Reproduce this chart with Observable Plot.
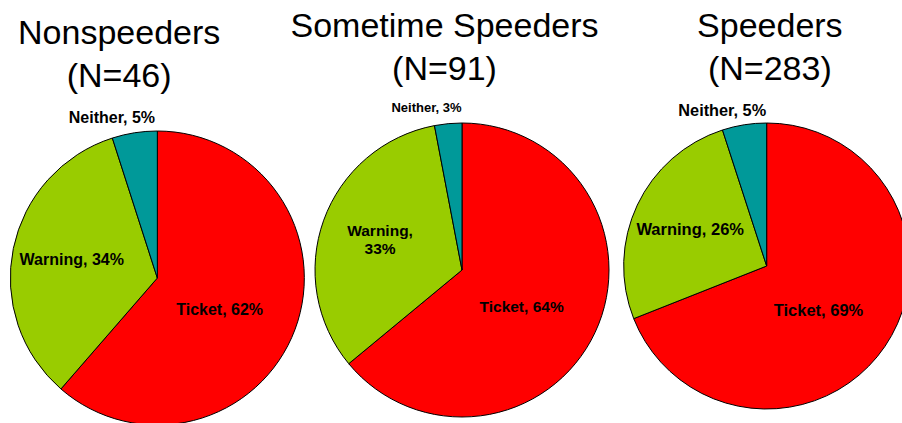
<!DOCTYPE html>
<html><head><meta charset="utf-8">
<script src="https://cdn.jsdelivr.net/npm/d3@7"></script>
<script src="https://cdn.jsdelivr.net/npm/@observablehq/plot@0.6"></script>
<style>body{margin:0;background:#fff} svg{display:block}</style>
</head><body><div id="chart"></div>
<script>
// ---- data ----
const groups = ["Nonspeeders", "Sometime Speeders", "Speeders"];
const counts = [46, 91, 283];
const categories = ["Ticket", "Warning", "Neither"];
const ticketPct = [62, 64, 69];
const warningPct = [34, 33, 26];
const neitherPct = [5, 3, 5];
const colors = ["#FF0000", "#99CC00", "#009999"];

// ---- layout (not data) ----
const W = 902, H = 423;
const FONT = "'Liberation Sans', Arial, Helvetica, sans-serif";
const pieRange = [5, 919];
const titleRange = [-44, 932];
const pieCy = [278, 270, 266];
const pieR = [147, 147, 143];
const titleTop = [14, 7, 7];
const labelSizes = [[16, 16, 16], [15.5, 15.5, 13], [16.5, 16.5, 16.3]];
const wrapLabel = [[false, false, false], [false, true, false], [false, false, false]];
const labelRadius = {Ticket: 0.47, Warning: 0.6, Neither: 1.14};
const labelShift = {Ticket: 6, Warning: 1, Neither: -7}; // degrees

const pieX = Plot.scale({x: {type: "band", domain: groups, range: pieRange, padding: 0}});
const titleX = Plot.scale({x: {type: "band", domain: groups, range: titleRange, padding: 0}});
const color = Plot.scale({color: {type: "ordinal", domain: categories, range: colors}});
const series = [ticketPct, warningPct, neitherPct];

const slices = [];
const labels = [];
groups.forEach((g, i) => {
  const rows = categories.map((c, j) => ({group: g, category: c, value: series[j][i]}));
  const arcs = d3.pie().sort(null).value(d => d.value)(rows);
  const cx = pieX.apply(g) + pieX.bandwidth / 2;
  const cy = pieCy[i], r = pieR[i];
  arcs.forEach((a, j) => {
    const c = a.data.category;
    slices.push({cx, cy, r, arc: a, category: c});
    const mid = (a.startAngle + a.endAngle) / 2 + labelShift[c] * Math.PI / 180;
    const rr = labelRadius[c] * r;
    labels.push({
      x: cx + rr * Math.sin(mid),
      y: cy - rr * Math.cos(mid),
      text: `${c},${wrapLabel[i][j] ? "\n" : " "}${a.data.value}%`,
      size: labelSizes[i][j]
    });
  });
});

const titles = groups.map((g, i) => ({
  x: titleX.apply(g) + titleX.bandwidth / 2,
  y: titleTop[i],
  text: `${g}\n(N=${counts[i]})`
}));

function pieMark() {
  const g = d3.create("svg:g");
  for (const s of slices) {
    g.append("path")
      .attr("transform", `translate(${s.cx},${s.cy})`)
      .attr("d", d3.arc().innerRadius(0).outerRadius(s.r)(s.arc))
      .attr("fill", color.apply(s.category))
      .attr("stroke", "#000")
      .attr("stroke-width", 1)
      .attr("stroke-linejoin", "round");
  }
  return g.node();
}

const chart = Plot.plot({
  width: W,
  height: H,
  margin: 0,
  style: {background: "#fff", fontFamily: FONT, overflow: "hidden"},
  x: {type: "identity", axis: null},
  y: {type: "identity", axis: null},
  marks: [
    pieMark,
    Plot.text(labels, {
      x: "x", y: "y", text: "text", fontSize: "size",
      fontWeight: "bold", fill: "#000", textAnchor: "middle",
      lineHeight: 1.2, fontFamily: FONT
    }),
    Plot.text(titles, {
      x: "x", y: "y", text: "text", fontSize: 34,
      fill: "#000", textAnchor: "middle", lineAnchor: "top",
      lineHeight: 1.24, fontFamily: FONT
    })
  ]
});
document.getElementById("chart").append(chart);
</script>
</body></html>
